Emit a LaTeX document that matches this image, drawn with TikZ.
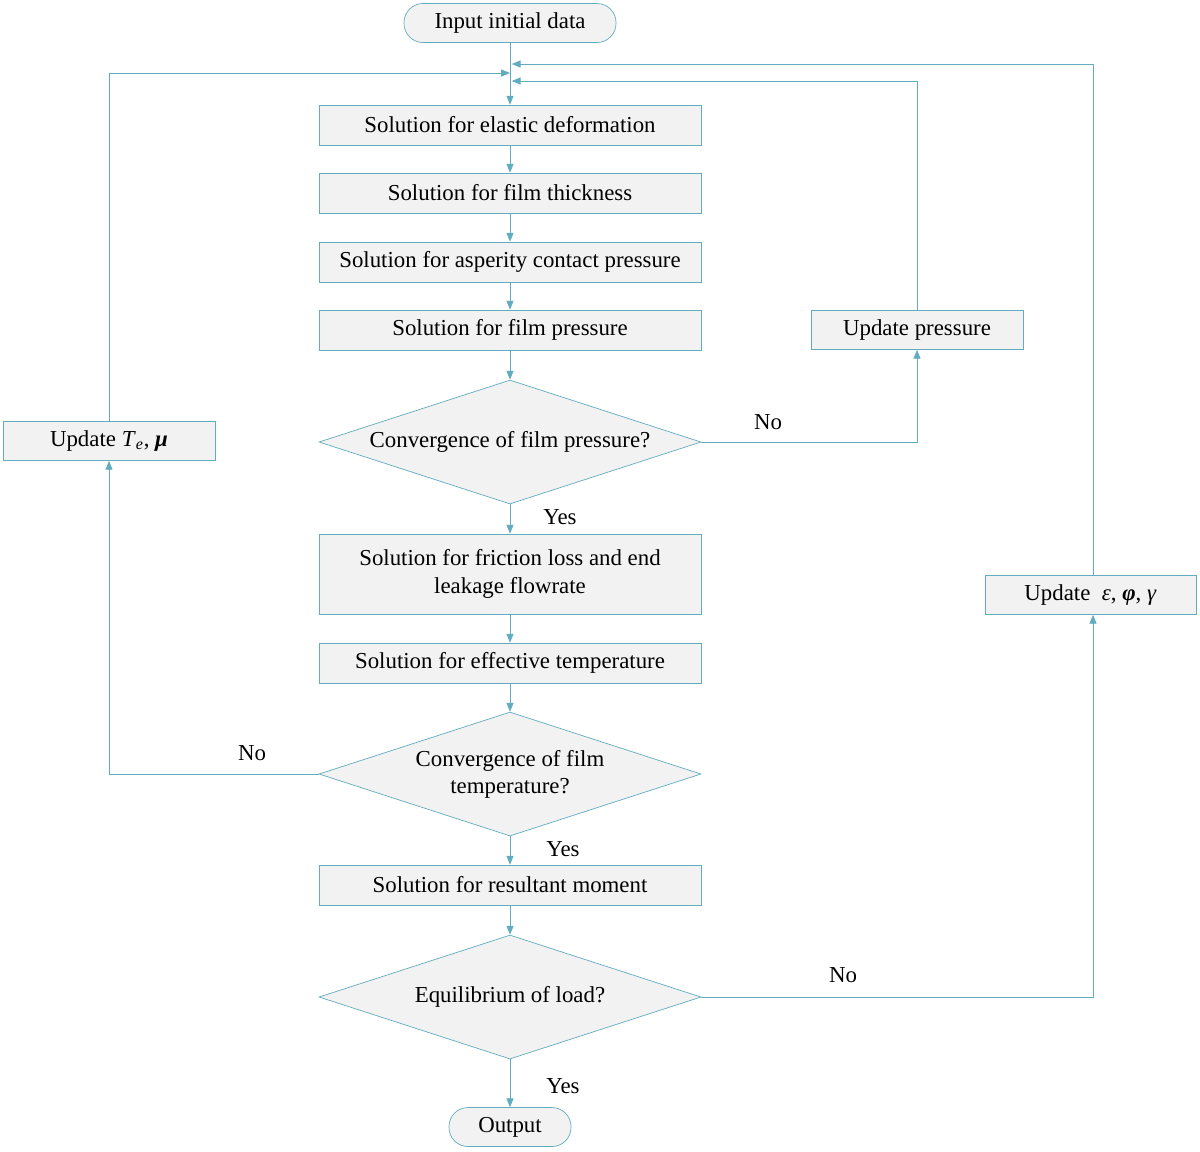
\documentclass[tikz,border=0pt]{standalone}
\usepackage{fontspec}
\setmainfont{Liberation Serif}
\usetikzlibrary{shapes.geometric,arrows.meta}
\definecolor{flowline}{RGB}{98,172,192}
\definecolor{flowfill}{RGB}{242,242,242}
\begin{document}
\begin{tikzpicture}[
    font=\fontsize{13}{15.5}\selectfont,
    proc/.style={draw=flowline, fill=flowfill, minimum width=7.64cm, minimum height=0.8cm, align=center, inner sep=2pt},
    upd/.style={draw=flowline, fill=flowfill, minimum width=4.24cm, minimum height=0.78cm, inner sep=2pt},
    term/.style={draw=flowline, fill=flowfill, rounded corners=0.38cm, minimum height=0.78cm, inner sep=2pt},
    decide/.style={draw=flowline, fill=flowfill, diamond, aspect=3.08, inner sep=0pt, minimum width=7.64cm, minimum height=2.48cm, align=center},
    flow/.style={draw=flowline, -{Triangle[length=5pt,width=4pt]}},
    tag/.style={inner sep=1pt}
]
\useasboundingbox (0,0) rectangle (24,-23.02);

% Main column
\node[term, minimum width=4.24cm] (input) at (10.2,-0.46) {Input initial data};
\node[proc] (elastic) at (10.2,-2.5) {Solution for elastic deformation};
\node[proc] (thick) at (10.2,-3.86) {Solution for film thickness};
\node[proc] (asper) at (10.2,-5.24) {Solution for asperity contact pressure};
\node[proc] (fpress) at (10.2,-6.6) {Solution for film pressure};
\node[decide] (conva) at (10.2,-8.84) {Convergence of film pressure?};
\node[proc, minimum height=1.6cm] (fric) at (10.2,-11.48) {Solution for friction loss and end\\leakage flowrate};
\node[proc] (efft) at (10.2,-13.26) {Solution for effective temperature};
\node[decide] (convb) at (10.2,-15.48) {Convergence of film\\temperature?};
\node[proc] (moment) at (10.2,-17.7) {Solution for resultant moment};
\node[decide] (equil) at (10.2,-19.94) {Equilibrium of load?};
\node[term, minimum width=2.44cm] (output) at (10.2,-22.54) {Output};

% Update boxes
\node[upd] (updp) at (18.34,-6.6) {Update pressure};
\node[upd] (updt) at (2.18,-8.82) {Update \textit{T}\textsubscript{\textit{e}}, \textit{\textbf{μ}}};
\node[upd, minimum width=4.22cm] (upde) at (21.81,-11.9) {Update \ \textit{ε}, \textit{\textbf{φ}}, \textit{γ}};

% Junctions on the main line
\coordinate (jr1) at (10.2,-1.28);
\coordinate (jl) at (10.2,-1.46);
\coordinate (jr2) at (10.2,-1.62);

% Main flow
\draw[flow] (input) -- (elastic);
\draw[flow] (elastic) -- (thick);
\draw[flow] (thick) -- (asper);
\draw[flow] (asper) -- (fpress);
\draw[flow] (fpress) -- (conva);
\draw[flow] (conva) -- (fric);
\draw[flow] (fric) -- (efft);
\draw[flow] (efft) -- (convb);
\draw[flow] (convb) -- (moment);
\draw[flow] (moment) -- (equil);
\draw[flow] (equil) -- (output);

% Loops back
\draw[flow] (conva.east) -| (updp.south);
\draw[flow] (updp.north) |- ([xshift=1pt]jr2);
\draw[flow] (convb.west) -| (updt.south);
\draw[flow] (updt.north) |- (jl);
\draw[flow] (equil.east) -| ([xshift=0.05cm]upde.south);
\draw[flow] ([xshift=0.05cm]upde.north) |- ([xshift=1pt]jr1);

% Branch labels
\node[tag] at (15.36,-8.44) {No};
\node[tag] at (11.2,-10.34) {Yes};
\node[tag] at (5.04,-15.06) {No};
\node[tag] at (11.26,-16.98) {Yes};
\node[tag] at (16.86,-19.5) {No};
\node[tag] at (11.26,-21.72) {Yes};
\end{tikzpicture}
\end{document}
